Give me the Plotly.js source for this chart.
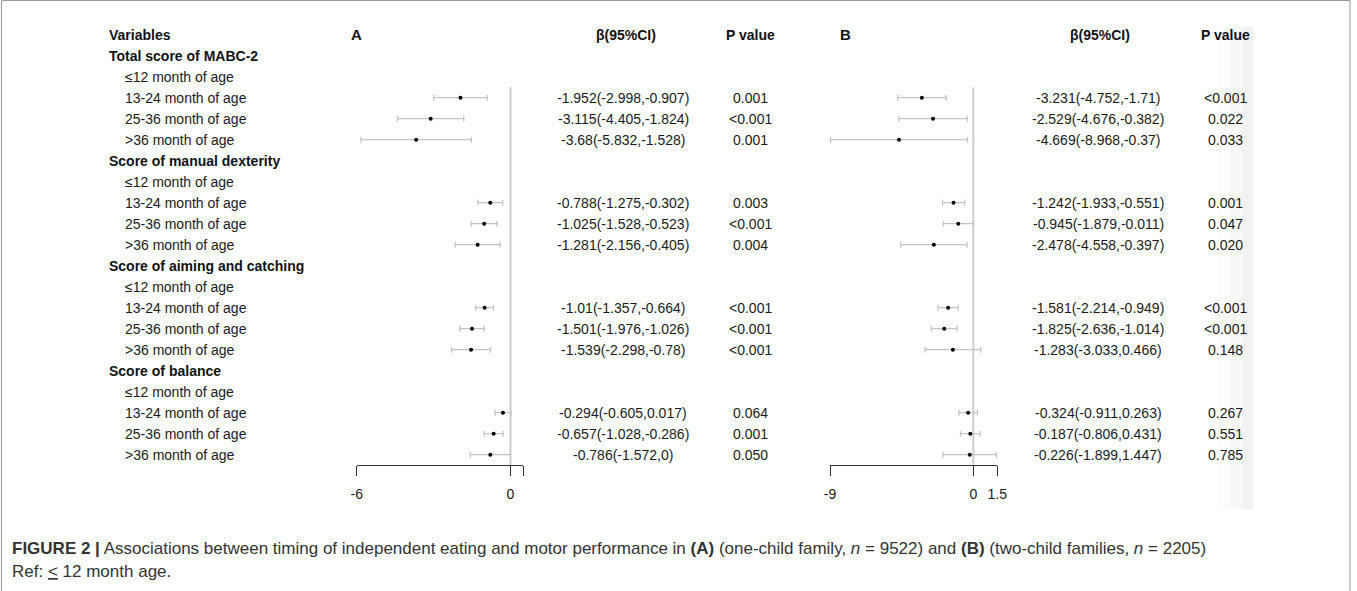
<!DOCTYPE html>
<html>
<head>
<meta charset="utf-8">
<script src="https://cdn.plot.ly/plotly-3.0.1.min.js"></script>
<style>html,body{margin:0;padding:0;background:#fff;}#chart{width:1357px;height:591px;}</style>
</head>
<body>
<div id="chart"></div>
<script>
// ---------- data ----------
const groups = ["Total score of MABC-2", "Score of manual dexterity", "Score of aiming and catching", "Score of balance"];
const ageLabels = ["≤12 month of age", "13-24 month of age", "25-36 month of age", ">36 month of age"];

// Panel A (one-child family) : per group, rows 13-24, 25-36, >36
const estA = [-1.952, -3.115, -3.68,  -0.788, -1.025, -1.281,  -1.01, -1.501, -1.539,  -0.294, -0.657, -0.786];
const loA  = [-2.998, -4.405, -5.832, -1.275, -1.528, -2.156,  -1.357, -1.976, -2.298, -0.605, -1.028, -1.572];
const hiA  = [-0.907, -1.824, -1.528, -0.302, -0.523, -0.405,  -0.664, -1.026, -0.78,  0.017, -0.286, 0];
const ciTextA = ["-1.952(-2.998,-0.907)", "-3.115(-4.405,-1.824)", "-3.68(-5.832,-1.528)",
                 "-0.788(-1.275,-0.302)", "-1.025(-1.528,-0.523)", "-1.281(-2.156,-0.405)",
                 "-1.01(-1.357,-0.664)", "-1.501(-1.976,-1.026)", "-1.539(-2.298,-0.78)",
                 "-0.294(-0.605,0.017)", "-0.657(-1.028,-0.286)", "-0.786(-1.572,0)"];
const pA = ["0.001", "<0.001", "0.001", "0.003", "<0.001", "0.004", "<0.001", "<0.001", "<0.001", "0.064", "0.001", "0.050"];

// Panel B (two-child families)
const estB = [-3.231, -2.529, -4.669,  -1.242, -0.945, -2.478,  -1.581, -1.825, -1.283,  -0.324, -0.187, -0.226];
const loB  = [-4.752, -4.676, -8.968,  -1.933, -1.879, -4.558,  -2.214, -2.636, -3.033,  -0.911, -0.806, -1.899];
const hiB  = [-1.71,  -0.382, -0.37,   -0.551, -0.011, -0.397,  -0.949, -1.014, 0.466,   0.263, 0.431, 1.447];
const ciTextB = ["-3.231(-4.752,-1.71)", "-2.529(-4.676,-0.382)", "-4.669(-8.968,-0.37)",
                 "-1.242(-1.933,-0.551)", "-0.945(-1.879,-0.011)", "-2.478(-4.558,-0.397)",
                 "-1.581(-2.214,-0.949)", "-1.825(-2.636,-1.014)", "-1.283(-3.033,0.466)",
                 "-0.324(-0.911,0.263)", "-0.187(-0.806,0.431)", "-0.226(-1.899,1.447)"];
const pB = ["<0.001", "0.022", "0.033", "0.001", "0.047", "0.020", "<0.001", "<0.001", "0.148", "0.267", "0.551", "0.785"];

const tickValsA = [-6, 0, 0.5], tickTextA = ["-6", "0", ""];
const tickValsB = [-9, 0, 1.5], tickTextB = ["-9", "0", "1.5"];

// ---------- layout helpers ----------
const W = 1357, H = 591;
const px = v => v / W;
const FONT = "Liberation Sans, Arial, Helvetica, sans-serif";

const dataRows = [];
const annotations = [];
function ann(text, xpx, row, anchor, opts) {
  annotations.push(Object.assign({
    text: text, xref: "paper", yref: "y", x: px(xpx), y: row,
    xanchor: anchor, yanchor: "middle", showarrow: false,
    font: {family: FONT, size: 14, color: "#1a1a1a"}
  }, opts || {}));
}
const boldFont = {family: FONT, size: 14, color: "#111"};
ann("<b>Variables</b>", 106.7, 0, "left", {font: boldFont});
ann("<b>A</b>", 349, 0, "left", {font: {family: FONT, size: 15, color: "#111"}});
ann("<b>β(95%CI)</b>", 626, 0, "center", {font: boldFont});
ann("<b>P value</b>", 751, 0, "center", {font: boldFont});
ann("<b>B</b>", 838, 0, "left", {font: {family: FONT, size: 15, color: "#111"}});
ann("<b>β(95%CI)</b>", 1100, 0, "center", {font: boldFont});
ann("<b>P value</b>", 1225, 0, "center", {font: boldFont});

let row = 1, k = 0;
groups.forEach((g) => {
  ann("<b>" + g + "</b>", 106.7, row, "left", {font: boldFont});
  row++;
  ageLabels.forEach((a, j) => {
    ann(a, 122.7, row, "left");
    if (j > 0) {
      dataRows.push(row);
      ann(ciTextA[k], 623, row, "center");
      ann(pA[k], 751, row, "center");
      ann(ciTextB[k], 1098, row, "center");
      ann(pB[k], 1225, row, "center");
      k++;
    }
    row++;
  });
});

// caption
annotations.push({
  text: "<b>FIGURE 2 |</b> Associations between timing of independent eating and motor performance in <b>(A)</b> (one-child family, <i>n</i> = 9522) and <b>(B)</b> (two-child families, <i>n</i> = 2205)",
  xref: "paper", yref: "paper", x: px(10), y: 1 - 548 / H, xanchor: "left", yanchor: "middle",
  showarrow: false, font: {family: FONT, size: 17, color: "#333"}
});
annotations.push({
  text: "Ref: <u>&lt;</u> 12 month age.",
  xref: "paper", yref: "paper", x: px(10), y: 1 - 571 / H, xanchor: "left", yanchor: "middle",
  showarrow: false, font: {family: FONT, size: 17, color: "#333"}
});

// y mapping: row r -> pixel 34.7 + 21 r
const r0 = -34.7 / 21, r1 = (H - 34.7) / 21;
const axisRow = (465 - 34.7) / 21;

function forest(est, lo, hi, xa) {
  return {
    type: "scatter", mode: "markers", xaxis: xa, yaxis: "y",
    x: est, y: dataRows,
    marker: {color: "#000", size: 4},
    error_x: {type: "data", symmetric: false,
      array: est.map((e, i) => hi[i] - e),
      arrayminus: est.map((e, i) => e - lo[i]),
      color: "#c4c4c4", thickness: 1.3, width: 3},
    hoverinfo: "skip", showlegend: false
  };
}
function refLine(xa) {
  return {type: "scatter", mode: "lines", xaxis: xa, yaxis: "y",
    x: [0, 0], y: [2.5, axisRow], line: {color: "#cdcdcd", width: 2},
    hoverinfo: "skip", showlegend: false};
}

const traces = [refLine("x"), refLine("x2"), forest(estA, loA, hiA, "x"), forest(estB, loB, hiB, "x2")];

function xAxis(domainPx, range, tv, tt) {
  return {
    domain: [px(domainPx[0]), px(domainPx[1])], range: range,
    anchor: "free", position: 1 - 465 / H,
    showgrid: false, zeroline: false, showline: true, linecolor: "#333", linewidth: 1,
    ticks: "outside", ticklen: 10, tickwidth: 1, tickcolor: "#333",
    tickvals: tv, ticktext: tt, ticklabelstandoff: 6,
    tickfont: {family: FONT, size: 14, color: "#1a1a1a"}, fixedrange: true
  };
}

const layout = {
  width: W, height: H, margin: {l: 0, r: 0, t: 0, b: 0},
  paper_bgcolor: "#fff", plot_bgcolor: "rgba(0,0,0,0)",
  xaxis: xAxis([356.7, 523.3], [-6, 0.5], tickValsA, tickTextA),
  xaxis2: xAxis([830, 997.2], [-9, 1.5], tickValsB, tickTextB),
  yaxis: {domain: [0, 1], range: [r1, r0], visible: false, fixedrange: true},
  annotations: annotations,
  shapes: [
    {type: "rect", xref: "paper", yref: "paper", x0: px(1218), x1: px(1230), y0: 1 - 509 / H, y1: 1 - 27 / H, line: {width: 0}, fillcolor: "#fcfcfc", layer: "below"},
    {type: "rect", xref: "paper", yref: "paper", x0: px(1230), x1: px(1242), y0: 1 - 509 / H, y1: 1 - 27 / H, line: {width: 0}, fillcolor: "#f8f8f8", layer: "below"},
    {type: "rect", xref: "paper", yref: "paper", x0: px(1242), x1: px(1253), y0: 1 - 509 / H, y1: 1 - 27 / H, line: {width: 0}, fillcolor: "#f2f2f2", layer: "below"},
    {type: "rect", xref: "paper", yref: "paper", x0: px(1.5), x1: px(1350), y0: -0.01, y1: 1 - 0.5 / H, line: {width: 1, color: "#9a9a9a"}, fillcolor: "rgba(0,0,0,0)"}
  ],
  showlegend: false
};

Plotly.newPlot("chart", traces, layout, {staticPlot: true, displayModeBar: false});
</script>
</body>
</html>
